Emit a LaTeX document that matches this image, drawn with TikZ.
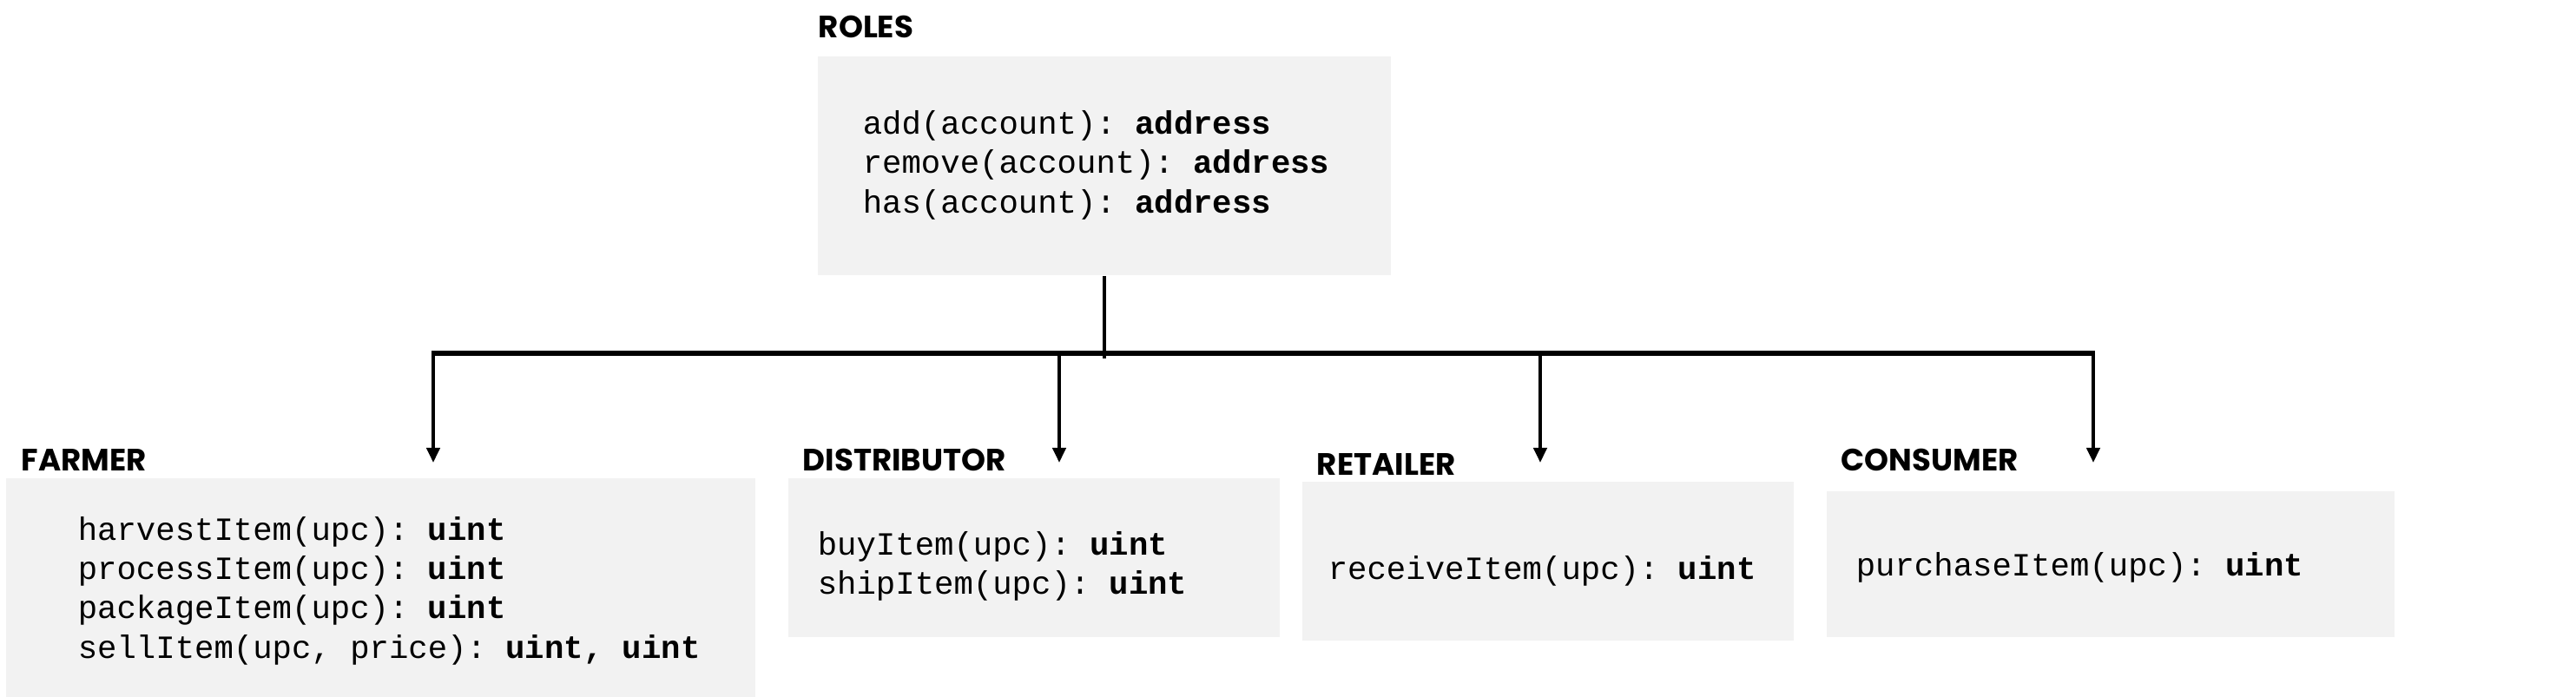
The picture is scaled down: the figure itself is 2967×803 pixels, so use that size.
\documentclass[tikz,border=0pt]{standalone}
\usepackage{fontspec}
\setmonofont{Liberation Mono}
\newfontfamily\lblfont{Poppins}
\usetikzlibrary{fit,arrows.meta}
\definecolor{boxgray}{HTML}{F2F2F2}
\tikzset{
  box/.style={fill=boxgray, draw=none, inner sep=0pt, rectangle},
  code/.style={anchor=base west, inner sep=0pt, font=\ttfamily\fontsize{9.33}{11.4}\selectfont},
  lbl/.style={anchor=base west, inner sep=0pt, font=\lblfont\bfseries\fontsize{8.9}{10.5}\selectfont},
  bus/.style={line width=1.5pt},
  stem/.style={line width=1pt},
  drop/.style={line width=1pt, -{Triangle[length=4.3pt,width=3.8pt]}}
}
\begin{document}
\begin{tikzpicture}[x=0.25pt,y=-0.25pt]
\useasboundingbox (0,0) rectangle (2967,803);
% boxes
\node[box, fit={(942,65) (1602,317)}] (roles) {};
\node[box, fit={(7,551) (870,803)}] (farmer) {};
\node[box, fit={(908,551) (1474,734)}] (dist) {};
\node[box, fit={(1500,555) (2066,738)}] (ret) {};
\node[box, fit={(2104,566) (2758,734)}] (cons) {};
% labels
\node[lbl] (lroles) at (942,43) {ROLES};
\node[lbl] (lfarmer) at (24,542) {FARMER};
\node[lbl] (ldist) at (924,542) {DISTRIBUTOR};
\node[lbl] (lret) at (1516,547) {RETAILER};
\node[lbl] (lcons) at (2120,542) {CONSUMER};
% code lines
\node[code] (r1) at (993,154) {add(account): \textbf{address}};
\node[code] (r2) at (993,199) {remove(account): \textbf{address}};
\node[code] (r3) at (993,245) {has(account): \textbf{address}};
\node[code] (f1) at (89,622) {harvestItem(upc): \textbf{uint}};
\node[code] (f2) at (89,667) {processItem(upc): \textbf{uint}};
\node[code] (f3) at (89,712) {packageItem(upc): \textbf{uint}};
\node[code] (f4) at (89,758) {sellItem(upc, price): \textbf{uint, uint}};
\node[code] (d1) at (941,639) {buyItem(upc): \textbf{uint}};
\node[code] (d2) at (941,684) {shipItem(upc): \textbf{uint}};
\node[code] (t1) at (1529,667) {receiveItem(upc): \textbf{uint}};
\node[code] (c1) at (2137,663) {purchaseItem(upc): \textbf{uint}};
% connectors
\coordinate (j) at (1272,413);
\coordinate (bl) at (499,407);
\coordinate (br) at (2411,407);
\coordinate (bd) at (1220,407);
\coordinate (bt) at (1774,407);
\coordinate (af) at (499,533);
\coordinate (ad) at (1220,533);
\coordinate (at) at (1774,533);
\coordinate (ac) at (2411,533);
\draw[stem] (roles.south) -- (j);
\draw[bus] ([xshift=-0.5pt]bl) -- ([xshift=0.5pt]br);
\draw[drop] (bl) -- (af);
\draw[drop] (bd) -- (ad);
\draw[drop] (bt) -- (at);
\draw[drop] (br) -- (ac);
\end{tikzpicture}
\end{document}
